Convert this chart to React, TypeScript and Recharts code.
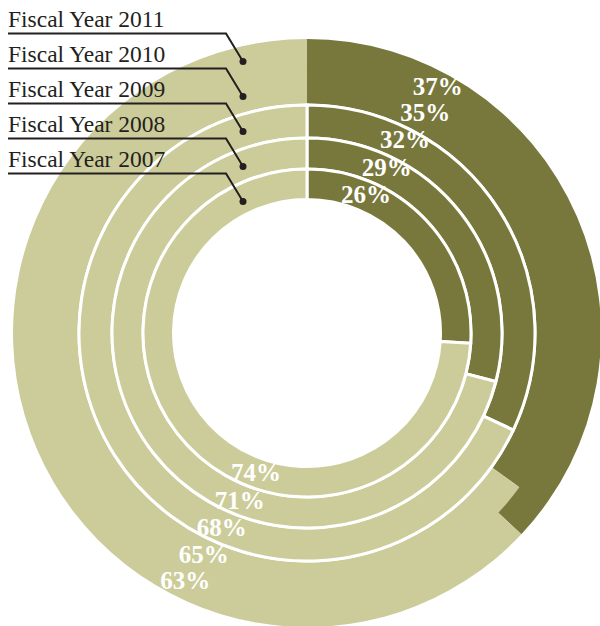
import { PieChart, Pie, Cell } from "recharts";

// share of each fiscal year, outermost ring first
const years = ["2011", "2010", "2009", "2008", "2007"];
const darkShare = [37, 35, 32, 29, 26];
const lightShare = [63, 65, 68, 71, 74];

const DARK = "#78783c";
const LIGHT = "#cccc9a";
const INK = "#231f20";
const SERIF = "'Liberation Serif', 'Times New Roman', serif";

const CX = 307;
const CY = 333;

// ring geometry, outer to inner; the two outer rings touch without a divider
const rings = [
  { inner: 261.5, outer: 294, divider: false },
  { inner: 229.5, outer: 262.5, divider: false },
  { inner: 195, outer: 228, divider: true },
  { inner: 164, outer: 195, divider: true },
  { inner: 133.5, outer: 164, divider: true },
];

// where the labels sit (degrees clockwise from 12 o'clock)
const darkLabelAngle = [28, 28.2, 26.9, 25.7, 23];
const lightLabelAngle = [206.2, 205, 203.7, 201.9, 200];
const darkLabelShift = [1, 4, 5, 4.5, 2];
const lightLabelShift = [-2, -1.5, 0.5, 0.5, 0];

const RAD = Math.PI / 180;

function makeLabel(ring: number) {
  return (props: any) => {
    const { cx, cy, innerRadius, outerRadius, index, value } = props;
    const dark = index === 0;
    const a = (dark ? darkLabelAngle[ring] : lightLabelAngle[ring]) * RAD;
    const r =
      (innerRadius + outerRadius) / 2 +
      (dark ? darkLabelShift[ring] : lightLabelShift[ring]);
    return (
      <text
        x={cx + r * Math.sin(a)}
        y={cy - r * Math.cos(a)}
        textAnchor="middle"
        dominantBaseline="central"
        fill="#fff"
        fontFamily={SERIF}
        fontWeight="bold"
        fontSize={25}
      >
        {value}%
      </text>
    );
  };
}

// legend rows with leader lines
const LEGEND_TOP = 33.5;
const LEGEND_STEP = 35;

export default function App() {
  return (
    <div
      style={{
        position: "absolute",
        left: 0,
        top: 0,
        width: 600,
        height: 626,
        background: "#fff",
        overflow: "hidden",
      }}
    >
      <PieChart width={600} height={626} margin={{ top: 0, right: 0, bottom: 0, left: 0 }}>
        {years.map((y, i) => (
          <Pie
            key={y}
            data={[
              { name: "dark", value: darkShare[i] },
              { name: "light", value: lightShare[i] },
            ]}
            dataKey="value"
            cx={CX}
            cy={CY}
            innerRadius={rings[i].inner}
            outerRadius={rings[i].outer}
            startAngle={90}
            endAngle={-270}
            stroke={rings[i].divider ? "#fff" : "none"}
            strokeWidth={rings[i].divider ? 3 : 0}
            label={makeLabel(i)}
            labelLine={false}
            isAnimationActive={false}
          >
            <Cell fill={DARK} />
            <Cell fill={LIGHT} />
          </Pie>
        ))}
      </PieChart>
      <svg
        width={600}
        height={626}
        style={{ position: "absolute", left: 0, top: 0, pointerEvents: "none" }}
      >
        {years.map((y, i) => {
          const ly = LEGEND_TOP + i * LEGEND_STEP;
          return (
            <g key={y}>
              <text x={8} y={ly - 7} fontFamily={SERIF} fontSize={23.5} fill={INK}>
                Fiscal Year {y}
              </text>
              <polyline
                points={`8,${ly} 226,${ly} 243,${ly + 28}`}
                fill="none"
                stroke={INK}
                strokeWidth={2}
              />
              <circle cx={243} cy={ly + 28} r={3.5} fill={INK} />
            </g>
          );
        })}
      </svg>
    </div>
  );
}
